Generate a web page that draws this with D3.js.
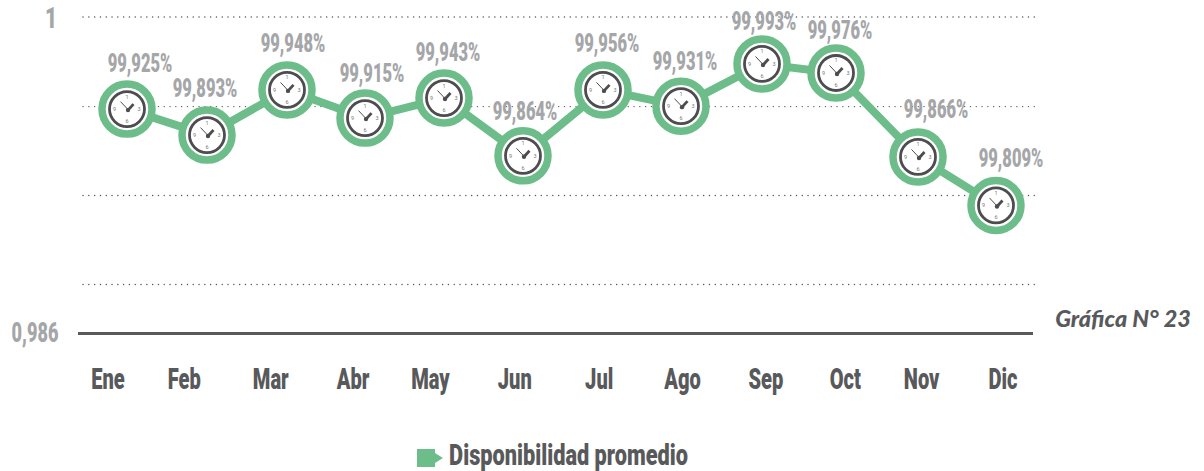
<!DOCTYPE html>
<html><head><meta charset="utf-8">
<script src="https://cdn.jsdelivr.net/npm/d3@7/dist/d3.min.js"></script>
<style>html,body{margin:0;background:#fff}svg{display:block}text{font-family:Roboto,sans-serif;font-weight:900}</style>
</head><body><div id="c"></div>
<script>
const months = ["Ene","Feb","Mar","Abr","May","Jun","Jul","Ago","Sep","Oct","Nov","Dic"];
const valueLabels = ["99,925%","99,893%","99,948%","99,915%","99,943%","99,864%","99,956%","99,931%","99,993%","99,976%","99,866%","99,809%"];
// heights of the markers read against the drawn axis (0,986 to 1)
const plotted = [0.99592,0.99477,0.99677,0.99552,0.99641,0.99385,0.99677,0.99605,0.99792,0.99752,0.99380,0.99165];
const gridValues = [1,0.99603,0.99209,0.98815];
const axisLabels = ["1","0,986"];
const legendLabel = "Disponibilidad promedio";
const captionLabel = "Gráfica N° 23";

// label placement relative to each marker and tick
const labelDx = [13,-2,6,7,4,2,4,4,2,4,18,15];
const labelDy = [-46,-47,-47,-45,-46,-45,-47,-45,-43,-43,-48,-47];
const markDx = [0,1,2,1,1,1,2,1,3,-2,1,0];
const tickDx = [0,-5,0,1,-3,0,3,5,7,5,0,0];

const GREEN="#6dbd8a", DARK="#58595b", GREY="#a5a6a8";
const svg=d3.select("#c").append("svg").attr("width",1204).attr("height",471);
const x=d3.scalePoint().domain(months).range([127,996]);
const xLabel=d3.scalePoint().domain(months).range([108,1003]);
const y=d3.scaleLinear().domain([0.986,1]).range([333,17]);
const mx=i=>x(months[i])+markDx[i];

function narrow(sel,px,py,size,color,sx){
  sel.attr("text-anchor","middle").attr("font-size",size).attr("fill",color)
     .attr("transform",`translate(${px},${py}) scale(${sx},1)`);
}
svg.append("g").selectAll("line").data(gridValues).join("line")
  .attr("x1",83).attr("x2",1037).attr("y1",d=>y(d)).attr("y2",d=>y(d))
  .attr("stroke","#58595b").attr("stroke-width",1.4).attr("stroke-linecap","round").attr("stroke-dasharray","0.1 5.7");
svg.append("line").attr("x1",78).attr("x2",1033).attr("y1",y(0.986)+0.5).attr("y2",y(0.986)+0.5)
  .attr("stroke",DARK).attr("stroke-width",3);

svg.append("text").text(axisLabels[0]).call(narrow,51,y(1)+11,30,GREY,0.7);
svg.append("text").text(axisLabels[1]).call(narrow,35,y(0.986)+9,27,GREY,0.67);

svg.append("g").selectAll("text").data(months).join("text").text(d=>d)
  .each(function(d,i){d3.select(this).call(narrow,xLabel(d)+tickDx[i],389,30,DARK,0.67);});

const line=d3.line().x((d,i)=>mx(i)).y(d=>y(d));
svg.append("path").datum(plotted).attr("d",line).attr("fill","none").attr("stroke",GREEN).attr("stroke-width",8);

const clock=svg.append("g").selectAll("g").data(plotted).join("g")
  .attr("transform",(d,i)=>`translate(${mx(i)},${y(d)})`);
clock.append("circle").attr("r",25).attr("fill","#fff").attr("stroke",GREEN).attr("stroke-width",7.5);
clock.append("circle").attr("r",17.5).attr("fill","#fff").attr("stroke","#4d4d4f").attr("stroke-width",2.8);
[["1",0,-10.5],["3",12,1.8],["6",0,14],["9",-12.5,1.8]].forEach(([t,dx,dy])=>{
  clock.append("text").text(t).attr("x",dx).attr("y",dy).attr("text-anchor","middle")
    .attr("font-size",5.5).attr("fill","#77787b").style("font-weight",400);
});
clock.append("line").attr("x1",1.5).attr("y1",1).attr("x2",-6.5).attr("y2",-7.5).attr("stroke","#4d4d4f").attr("stroke-width",1);
clock.append("line").attr("x1",1).attr("y1",1).attr("x2",6.5).attr("y2",-5).attr("stroke","#4d4d4f").attr("stroke-width",2.8);
clock.append("circle").attr("cx",1).attr("cy",1).attr("r",2.2).attr("fill","#4d4d4f");

svg.append("g").selectAll("text").data(valueLabels).join("text").text(d=>d)
  .each(function(d,i){d3.select(this).call(narrow,mx(i)+labelDx[i],y(plotted[i])+labelDy[i]+9,25,GREY,0.66);});

svg.append("path").attr("d","M417,449H435V453L443,458L435,463V467H417Z").attr("fill",GREEN);
svg.append("text").text(legendLabel).call(narrow,568.5,465,29,DARK,0.75);

svg.append("text").text(captionLabel).attr("x",1123).attr("y",327).attr("text-anchor","middle")
  .attr("font-size",23.4).attr("fill",DARK).style("font-family","Lato").style("font-style","italic");
</script></body></html>
